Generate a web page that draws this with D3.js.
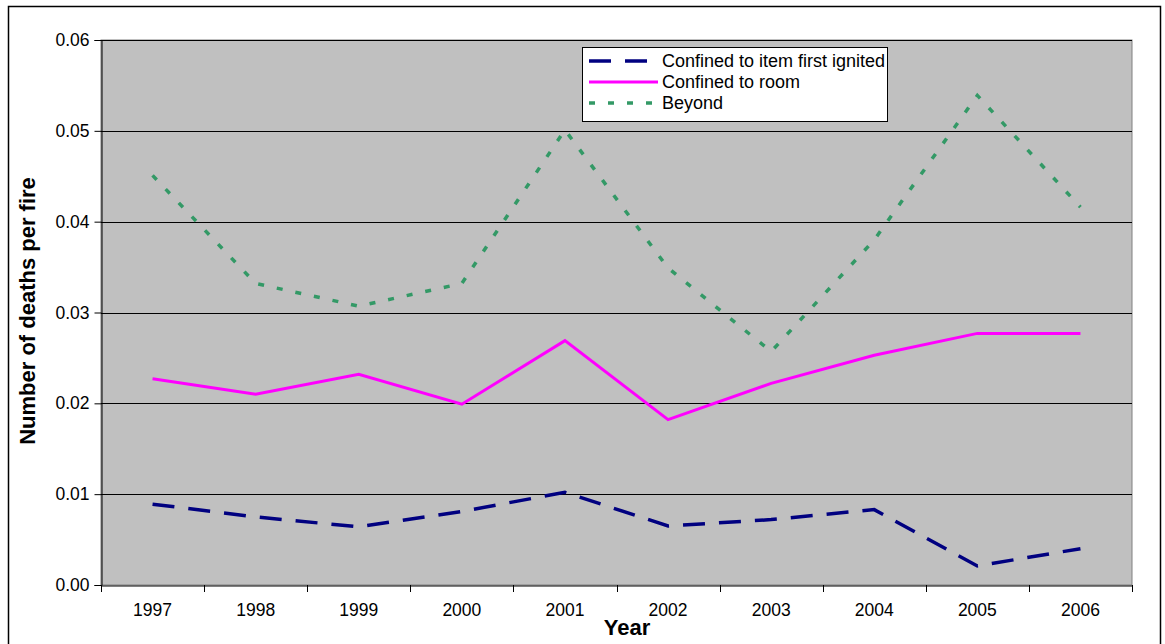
<!DOCTYPE html>
<html><head><meta charset="utf-8">
<script src="https://cdn.jsdelivr.net/npm/d3@7"></script>
<style>body{margin:0;background:#fff;}svg{display:block;font-family:Arial,"Liberation Sans",sans-serif;}</style>
</head><body><svg id="c" width="1165" height="644"></svg>
<script>
const years = ["1997","1998","1999","2000","2001","2002","2003","2004","2005","2006"];
const confinedItem = [0.0089,0.0075,0.0064,0.0081,0.0102,0.0065,0.0072,0.0083,0.0021,0.0040];
const confinedRoom = [0.0227,0.0210,0.0232,0.0199,0.0269,0.0182,0.0222,0.0253,0.0277,0.0277];
const beyond = [0.0451,0.0332,0.0307,0.0332,0.0501,0.0349,0.0257,0.0380,0.0539,0.0416];
const yTicks = [0,0.01,0.02,0.03,0.04,0.05,0.06];
const seriesNames = ["Confined to item first ignited","Confined to room","Beyond"];

const FONT = "Arial, 'Liberation Sans', sans-serif";
const svg = d3.select("#c");
svg.append("rect").attr("x",8.5).attr("y",6.5).attr("width",1152).attr("height",660)
  .attr("fill","#fff").attr("stroke","#000").attr("stroke-width",1.5);

const L=101, R=1132, T=40, B=585;
const x = d3.scaleBand().domain(years).range([L,R]);
const y = d3.scaleLinear().domain([0,0.06]).range([B,T]);

svg.append("rect").attr("x",L).attr("y",T).attr("width",R-L).attr("height",B-T)
  .attr("fill","#C0C0C0").attr("stroke","#808080").attr("stroke-width",1);

// gridlines
svg.append("g").selectAll("line").data(yTicks.filter(d=>d>0)).join("line")
  .attr("x1",L).attr("x2",R).attr("y1",d=>Math.round(y(d))+0.5).attr("y2",d=>Math.round(y(d))+0.5)
  .attr("stroke","#000").attr("stroke-width",1);

// y axis
const yAxis = d3.axisLeft(y).tickValues(yTicks).tickFormat(d3.format(".2f")).tickSize(7).tickPadding(5);
const gy = svg.append("g").attr("transform",`translate(${L+0.5},0)`).call(yAxis);
gy.select(".domain").attr("stroke","#000");
gy.selectAll(".tick line").attr("stroke","#000");
gy.selectAll(".tick text").attr("font-size","17.5px").attr("fill","#000").attr("font-family",FONT);

// x axis
const xAxis = d3.axisBottom(x).tickSize(0).tickPadding(18);
const gx = svg.append("g").attr("transform",`translate(0,${B+0.5})`).call(xAxis);
gx.select(".domain").attr("stroke","#000");
gx.selectAll(".tick text").attr("font-size","17.5px").attr("fill","#000").attr("font-family",FONT);
// boundary ticks
const bounds = years.map(d=>x(d)).concat([R]);
svg.append("g").selectAll("line").data(bounds).join("line")
  .attr("x1",d=>Math.round(d)+0.5).attr("x2",d=>Math.round(d)+0.5).attr("y1",B).attr("y2",B+7)
  .attr("stroke","#000");

const cx = d=>x(d)+x.bandwidth()/2;
const line = d3.line().x((d,i)=>cx(years[i])).y(d=>y(d));
const styles = [
  {data:confinedItem,color:"#000080",dash:"22,14",w:3.5},
  {data:confinedRoom,color:"#FF00FF",dash:null,w:3},
  {data:beyond,color:"#339966",dash:"6,13",w:3.5}
];
styles.forEach(s=>{
  svg.append("path").datum(s.data).attr("d",line).attr("fill","none")
    .attr("stroke",s.color).attr("stroke-width",s.w).attr("stroke-dasharray",s.dash);
});

// legend
const lg = svg.append("g");
lg.append("rect").attr("x",582.5).attr("y",47.5).attr("width",305).attr("height",74)
  .attr("fill","#fff").attr("stroke","#000").attr("stroke-width",1);
const ly=[61,82,103];
styles.forEach((s,i)=>{
  lg.append("line").attr("x1",589).attr("x2",658).attr("y1",ly[i]).attr("y2",ly[i])
    .attr("stroke",s.color).attr("stroke-width",s.w).attr("stroke-dasharray",s.dash);
  lg.append("text").attr("x",662).attr("y",ly[i]+6).attr("font-size","18px").text(seriesNames[i]);
});

svg.append("text").attr("transform","translate(35,311) rotate(-90)").attr("text-anchor","middle")
  .attr("font-size","22px").attr("font-weight","bold").text("Number of deaths per fire");
svg.append("text").attr("x",627).attr("y",635).attr("text-anchor","middle")
  .attr("font-size","22px").attr("font-weight","bold").text("Year");
</script></body></html>
